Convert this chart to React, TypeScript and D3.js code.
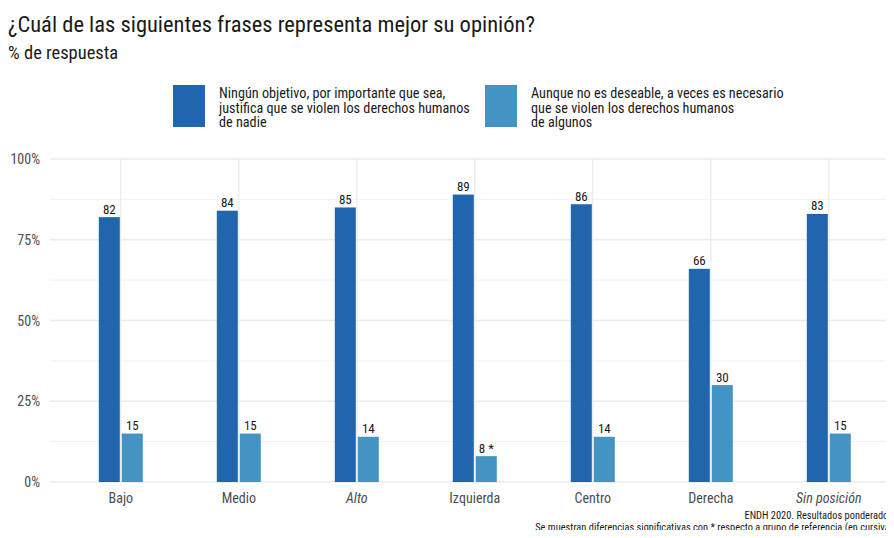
import { useEffect, useRef } from "react";
import * as d3 from "d3";

const categories = ["Bajo", "Medio", "Alto", "Izquierda", "Centro", "Derecha", "Sin posición"];
const italicCats = ["Alto", "Sin posición"];
const seriesNames = [
  "Ningún objetivo, por importante que sea,\njustifica que se violen los derechos humanos\nde nadie",
  "Aunque no es deseable, a veces es necesario\nque se violen los derechos humanos\nde algunos",
];
const ningunValues = [82, 84, 85, 89, 86, 66, 83];
const aunqueValues = [15, 15, 14, 8, 14, 30, 15];
const aunqueLabels = ["15", "15", "14", "8 *", "14", "30", "15"];
const yTicks = [0, 25, 50, 75, 100];
const yMinor = [12.5, 37.5, 62.5, 87.5];
const colors = ["#2166ac", "#4393c3"];

const FONT = "'Roboto Condensed', 'Liberation Sans Narrow', Roboto, sans-serif";

const App = () => {
  const ref = useRef<HTMLDivElement | null>(null);

  useEffect(() => {
    if (!ref.current) return;
    const width = 894;
    const height = 538;
    const svg = d3
      .select(ref.current)
      .append("svg")
      .attr("width", width)
      .attr("height", height)
      .style("display", "block")
      .style("font-family", FONT);

    const left = 50;
    const top = 159;
    const bottom = 482;
    const step = 118;
    // ggplot style discrete expansion of 0.6 step on each side
    const plotRight = left + step * (categories.length - 1 + 1.2);

    const x = d3
      .scalePoint()
      .domain(categories)
      .range([left + step * 0.6, plotRight - step * 0.6]);
    const xc = (c: string) => x(c) as number;
    const y = d3.scaleLinear().domain([0, 100]).range([bottom, top]);

    // title
    svg.append("text").attr("x", 8).attr("y", 32).attr("font-size", 22.5).attr("fill", "#1a1a1a")
      .text("¿Cuál de las siguientes frases representa mejor su opinión?");
    svg.append("text").attr("x", 8).attr("y", 59).attr("font-size", 18.5).attr("fill", "#1a1a1a")
      .text("% de respuesta");

    // grid
    const grid = svg.append("g");
    yMinor.forEach((v) => {
      grid.append("line").attr("x1", left).attr("x2", plotRight).attr("y1", y(v)).attr("y2", y(v))
        .attr("stroke", "#f2f2f2").attr("stroke-width", 1);
    });
    yTicks.forEach((v) => {
      grid.append("line").attr("x1", left).attr("x2", plotRight).attr("y1", y(v)).attr("y2", y(v))
        .attr("stroke", "#ebebeb").attr("stroke-width", 1.3);
    });
    categories.forEach((c) => {
      grid.append("line").attr("x1", xc(c)).attr("x2", xc(c)).attr("y1", top).attr("y2", bottom)
        .attr("stroke", "#ebebeb").attr("stroke-width", 1.3);
    });

    // y labels
    yTicks.forEach((v) => {
      svg.append("text").attr("x", 40).attr("y", y(v) + 5).attr("text-anchor", "end")
        .attr("font-size", 14).attr("fill", "#4d4d4d").text(v + "%");
    });

    // bars
    const bw = 21;
    const series = [ningunValues, aunqueValues];
    series.forEach((vals, si) => {
      const g = svg.append("g");
      vals.forEach((v, i) => {
        const cx = xc(categories[i]);
        const bx = si === 0 ? cx - 1 - bw : cx + 1;
        g.append("rect").attr("x", bx).attr("y", y(v)).attr("width", bw)
          .attr("height", bottom - y(v)).attr("fill", colors[si]);
        g.append("text").attr("x", bx + bw / 2).attr("y", y(v) - 3.5).attr("text-anchor", "middle")
          .attr("font-size", 13).attr("fill", "#1a1a1a")
          .text(si === 0 ? String(v) : aunqueLabels[i]);
      });
    });

    // x labels
    categories.forEach((c) => {
      svg.append("text").attr("x", xc(c)).attr("y", 503).attr("text-anchor", "middle")
        .attr("font-size", 14).attr("fill", "#4d4d4d")
        .attr("font-style", italicCats.includes(c) ? "italic" : "normal").text(c);
    });

    // legend
    const legX = [173, 485];
    seriesNames.forEach((name, i) => {
      svg.append("rect").attr("x", legX[i]).attr("y", 85).attr("width", 32).attr("height", 42)
        .attr("fill", colors[i]);
      const t = svg.append("text").attr("font-size", 14.2).attr("fill", "#1a1a1a");
      name.split("\n").forEach((line, li) => {
        t.append("tspan").attr("x", legX[i] + 46).attr("y", 98.3 + li * 14.3).text(line);
      });
    });

    // caption
    svg.append("text").attr("x", 893).attr("y", 518.5).attr("text-anchor", "end").attr("font-size", 10.4)
      .attr("fill", "#1a1a1a").text("ENDH 2020. Resultados ponderados");
    svg.append("text").attr("x", 893).attr("y", 531).attr("text-anchor", "end").attr("font-size", 10.4)
      .attr("fill", "#1a1a1a")
      .text("Se muestran diferencias significativas con * respecto a grupo de referencia (en cursiva)");

    return () => {
      svg.remove();
    };
  }, []);

  return <div ref={ref} style={{ margin: -8 }}></div>;
};

export default App;
